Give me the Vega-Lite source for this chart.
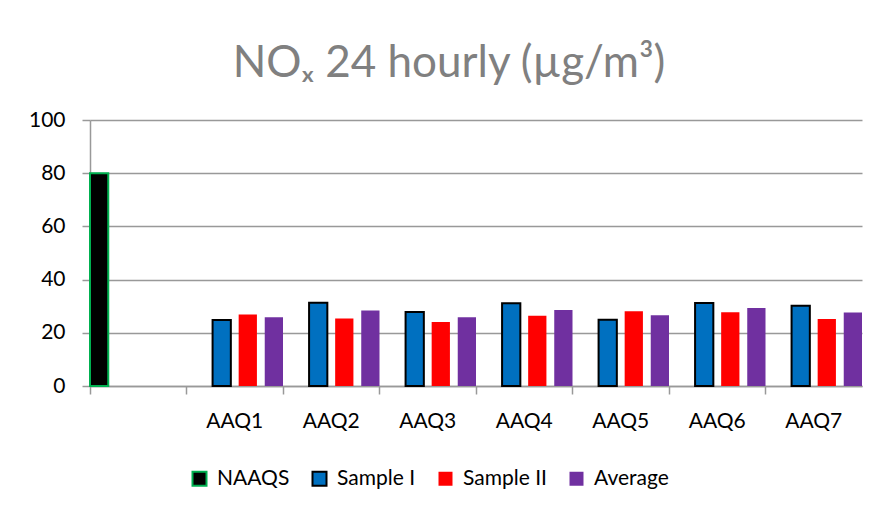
{
  "$schema": "https://vega.github.io/schema/vega-lite/v6.json",
  "width": 772,
  "height": 266,
  "autosize": {"type": "none"},
  "padding": {"left": 90, "top": 120, "right": 16, "bottom": 124},
  "background": "white",
  "title": {
    "text": "NOₓ 24 hourly (µg/m³)",
    "font": "Lato",
    "fontSize": 44,
    "fontWeight": "normal",
    "color": "#808080",
    "anchor": "middle",
    "dx": -27,
    "offset": 23
  },
  "config": {"view": {"stroke": null}},
  "data": {
    "values": [
      {"cat": "", "series": "NAAQS", "value": 80},
      {"cat": "AAQ1", "series": "Sample I", "value": 24.8},
      {"cat": "AAQ1", "series": "Sample II", "value": 26.9},
      {"cat": "AAQ1", "series": "Average", "value": 25.8},
      {"cat": "AAQ2", "series": "Sample I", "value": 31.3},
      {"cat": "AAQ2", "series": "Sample II", "value": 25.4},
      {"cat": "AAQ2", "series": "Average", "value": 28.4},
      {"cat": "AAQ3", "series": "Sample I", "value": 27.8},
      {"cat": "AAQ3", "series": "Sample II", "value": 24.1},
      {"cat": "AAQ3", "series": "Average", "value": 25.8},
      {"cat": "AAQ4", "series": "Sample I", "value": 31.1},
      {"cat": "AAQ4", "series": "Sample II", "value": 26.4},
      {"cat": "AAQ4", "series": "Average", "value": 28.6},
      {"cat": "AAQ5", "series": "Sample I", "value": 24.9},
      {"cat": "AAQ5", "series": "Sample II", "value": 28.1},
      {"cat": "AAQ5", "series": "Average", "value": 26.6},
      {"cat": "AAQ6", "series": "Sample I", "value": 31.2},
      {"cat": "AAQ6", "series": "Sample II", "value": 27.7},
      {"cat": "AAQ6", "series": "Average", "value": 29.3},
      {"cat": "AAQ7", "series": "Sample I", "value": 30.2},
      {"cat": "AAQ7", "series": "Sample II", "value": 25.2},
      {"cat": "AAQ7", "series": "Average", "value": 27.6}
    ]
  },
  "mark": {"type": "bar", "strokeWidth": 2},
  "encoding": {
    "x": {
      "field": "cat",
      "type": "nominal",
      "sort": ["", "AAQ1", "AAQ2", "AAQ3", "AAQ4", "AAQ5", "AAQ6", "AAQ7"],
      "scale": {"paddingInner": 0, "paddingOuter": 0},
      "axis": {
        "title": null,
        "bandPosition": 0,
        "labelAngle": 0,
        "tickSize": 8,
        "tickWidth": 1.5,
        "tickColor": "#999999",
        "domainColor": "#999999",
        "domainWidth": 1.5,
        "labelPadding": 16,
        "labelFont": "Lato",
        "labelFontSize": 21,
        "labelColor": "#000000"
      }
    },
    "xOffset": {
      "field": "series",
      "sort": ["NAAQS", "Sample I", "Sample II", "Average"],
      "scale": {"paddingInner": 0.3, "paddingOuter": 0}
    },
    "y": {
      "field": "value",
      "type": "quantitative",
      "scale": {"domain": [0, 100]},
      "axis": {
        "title": null,
        "values": [0, 20, 40, 60, 80, 100],
        "grid": true,
        "gridColor": "#999999",
        "gridWidth": 1.5,
        "tickSize": 8,
        "tickWidth": 1.5,
        "tickColor": "#999999",
        "domainColor": "#999999",
        "domainWidth": 1.5,
        "labelPadding": 17,
        "labelFont": "Lato",
        "labelFontSize": 21,
        "labelColor": "#000000"
      }
    },
    "color": {
      "field": "series",
      "type": "nominal",
      "scale": {
        "domain": ["NAAQS", "Sample I", "Sample II", "Average"],
        "range": ["#000000", "#0070C0", "#FF0000", "#7030A0"]
      },
      "legend": {
        "title": null,
        "orient": "none",
        "direction": "horizontal",
        "legendX": 99,
        "legendY": 348,
        "symbolType": "square",
        "symbolSize": 196,
        "symbolStrokeWidth": 2,
        "columnPadding": 18,
        "labelOffset": 7,
        "labelFont": "Lato",
        "labelFontSize": 21,
        "labelColor": "#000000"
      }
    },
    "stroke": {
      "field": "series",
      "type": "nominal",
      "scale": {
        "domain": ["NAAQS", "Sample I", "Sample II", "Average"],
        "range": ["#00B050", "#000000", "transparent", "transparent"]
      }
    }
  }
}
